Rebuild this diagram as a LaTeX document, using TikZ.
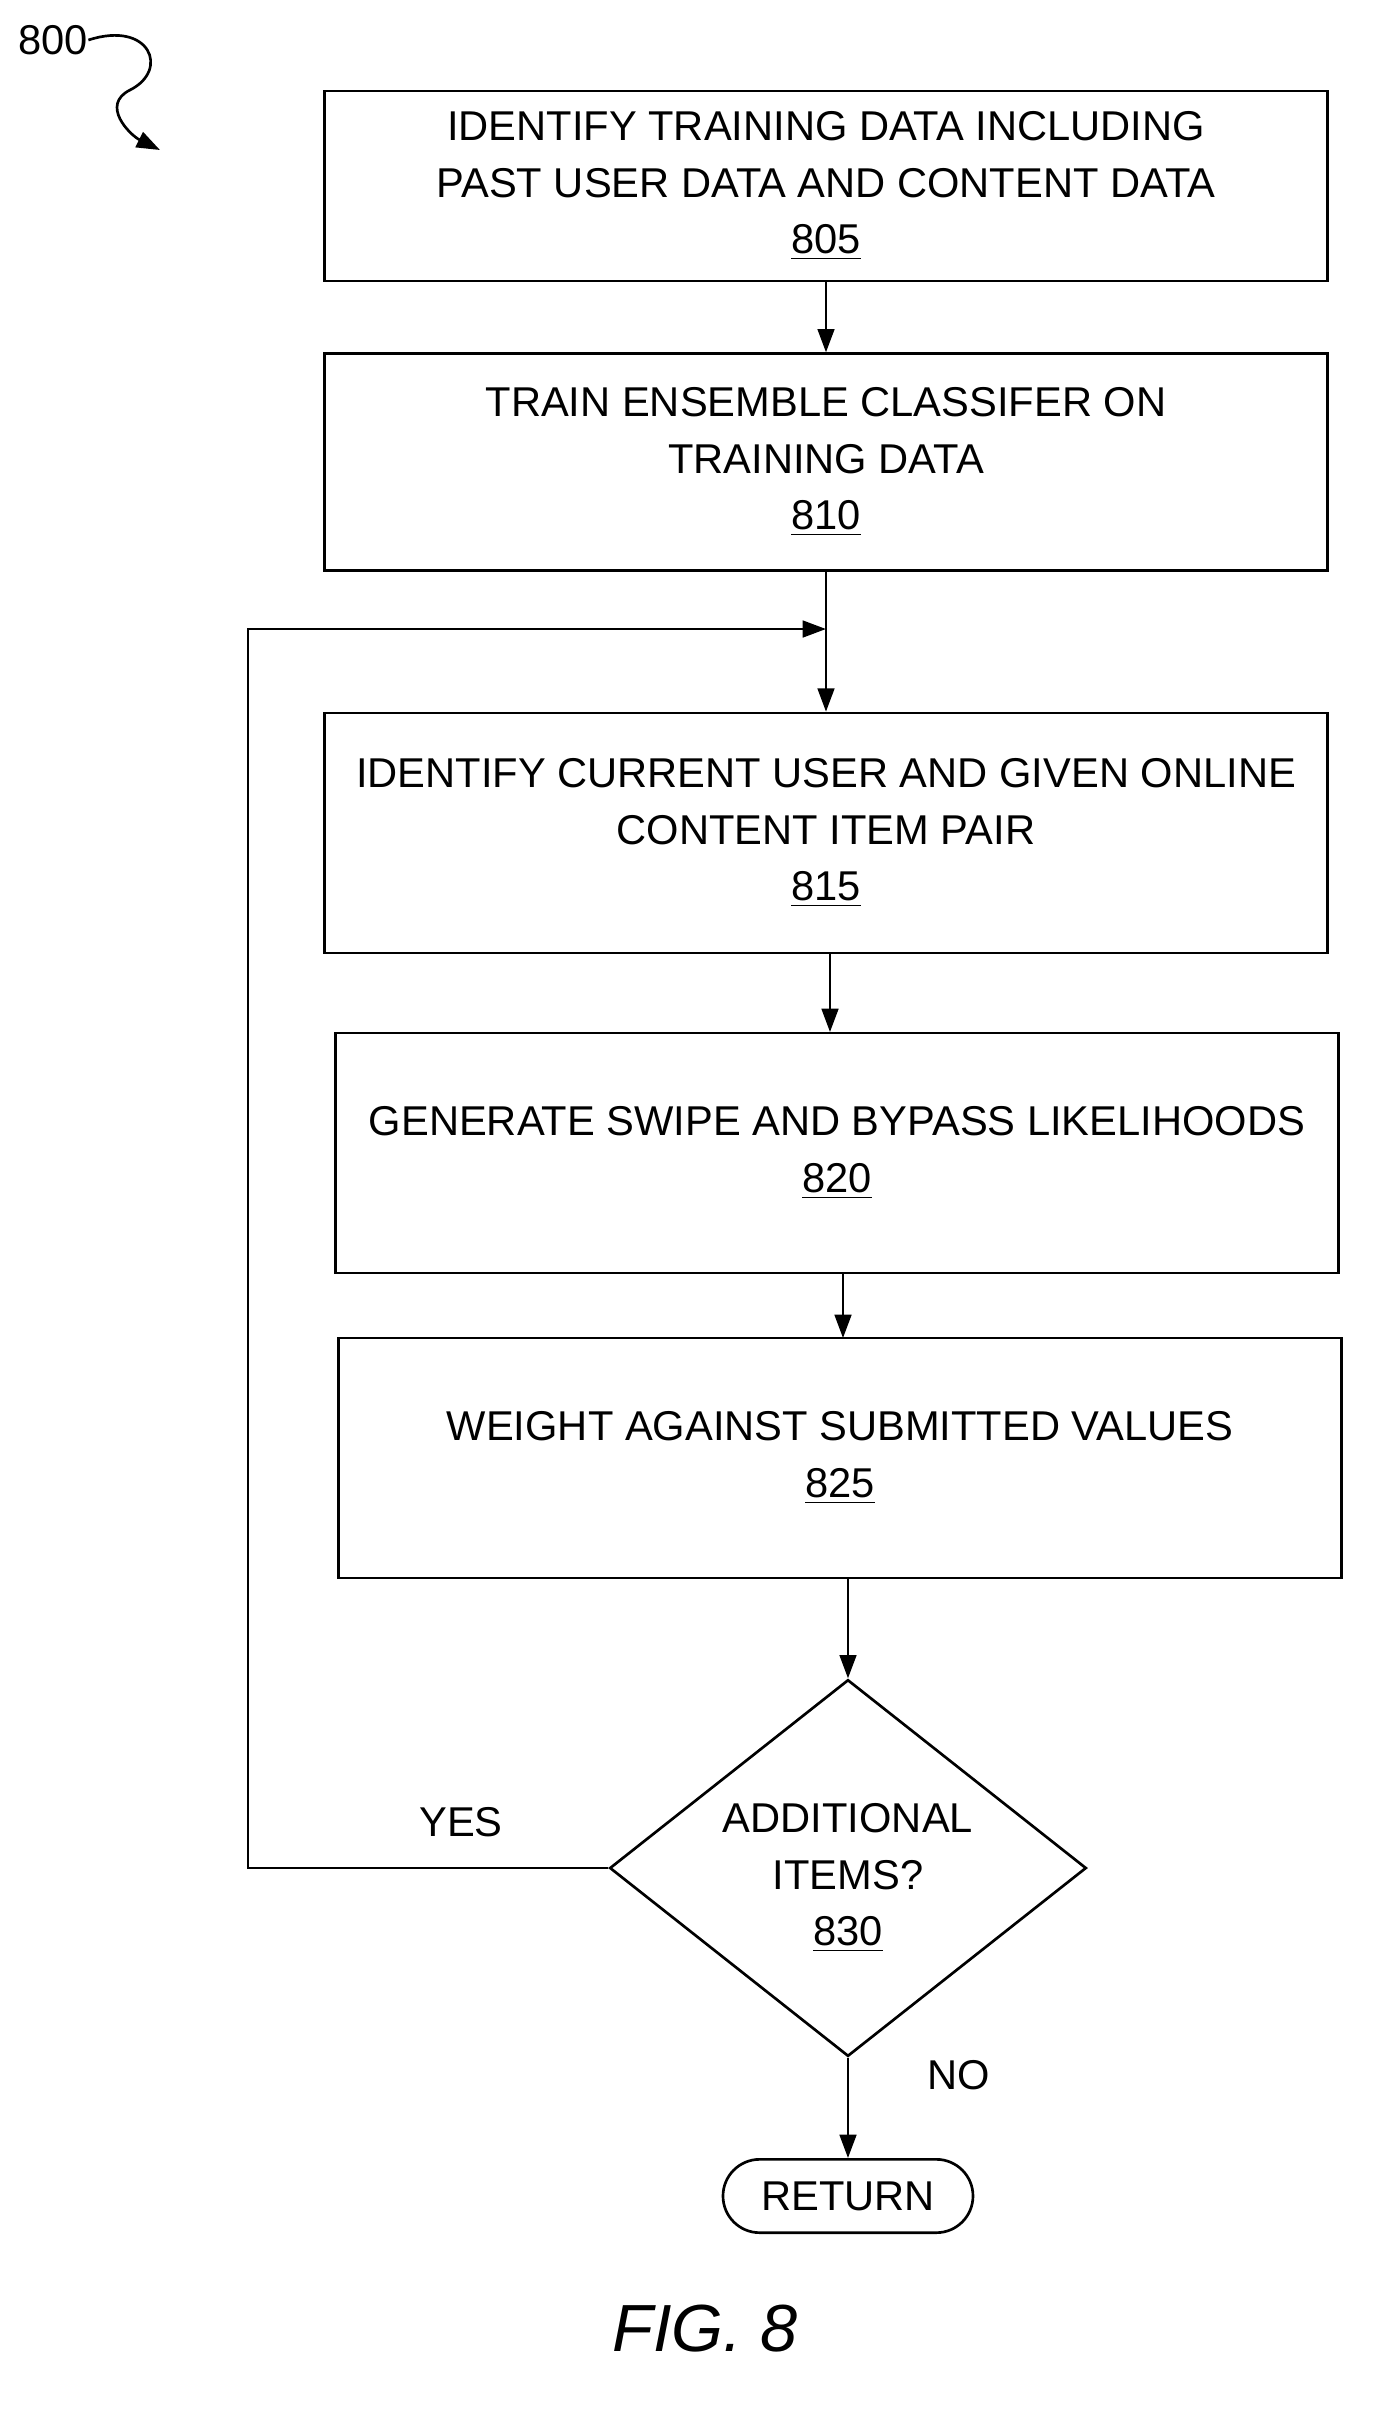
\documentclass[tikz,border=0pt]{standalone}
\usepackage{fontspec}
\setmainfont{Liberation Sans}
\usetikzlibrary{shapes.geometric,arrows.meta}
\begin{document}
\begin{tikzpicture}[x=0.3pt,y=-0.3pt,
 every node/.style={font=\fontsize{12.5}{17}\selectfont,align=center,inner sep=0pt},
 box/.style={draw,line width=0.8pt,minimum width=301pt,minimum height=#1},
 ln/.style={line width=0.8pt},
 arr/.style={ln,-{Triangle[length=7pt,width=5pt]}}]
\useasboundingbox (0,0) rectangle (1382,2411);
\node[box=57pt] (b805) at (826,186) {IDENTIFY TRAINING DATA INCLUDING\\PAST USER DATA AND CONTENT DATA\\\underline{805}};
\node[box=65pt] (b810) at (826,462) {TRAIN ENSEMBLE CLASSIFER ON\\TRAINING DATA\\\underline{810}};
\node[box=72pt] (b815) at (826,833) {IDENTIFY CURRENT USER AND GIVEN ONLINE\\CONTENT ITEM PAIR\\\underline{815}};
\node[box=72pt] (b820) at (837,1153) {GENERATE SWIPE AND BYPASS LIKELIHOODS\\\underline{820}};
\node[box=72pt] (b825) at (840,1458) {WEIGHT AGAINST SUBMITTED VALUES\\\underline{825}};
\node[draw,ln,diamond,minimum width=143pt,minimum height=113pt] (d830) at (848,1868) {};
\node at (848,1878) {ADDITIONAL\\ITEMS?\\\underline{830}};
\node[draw,ln,rounded corners=11pt,minimum width=75pt,minimum height=22pt] (ret) at (848,2196) {RETURN};
\coordinate (j) at (826,629);
\coordinate (l1) at (248,1868);
\coordinate (l2) at (248,629);
\draw[arr] (b805) -- (b805.south |- b810.north);
\draw[ln] (b810.south) -- (j);
\draw[arr] (j) -- (b815.north);
\draw[arr] (b815.south -| 830,0) -- (830,1032);
\draw[arr] (843,1274) -- (843,1338);
\draw[arr] (b825.south -| d830.north) -- (d830.north);
\draw[arr] (d830.west) -- (l1) -- (l2) -- (j);
\draw[arr] (d830.south) -- (ret.north);
\node at (461,1822) {YES};
\node at (959,2075) {NO};
\node[font=\fontsize{20}{24}\selectfont\itshape] (fig) at (705,2329) {FIG. 8};
\node (n800) at (53,40) {800};
\coordinate (a800) at (160,150);
\draw[arr] (n800.east) .. controls (150,20) and (170,70) .. (130,90) .. controls (100,105) and (130,135) .. (a800);
\end{tikzpicture}
\end{document}
